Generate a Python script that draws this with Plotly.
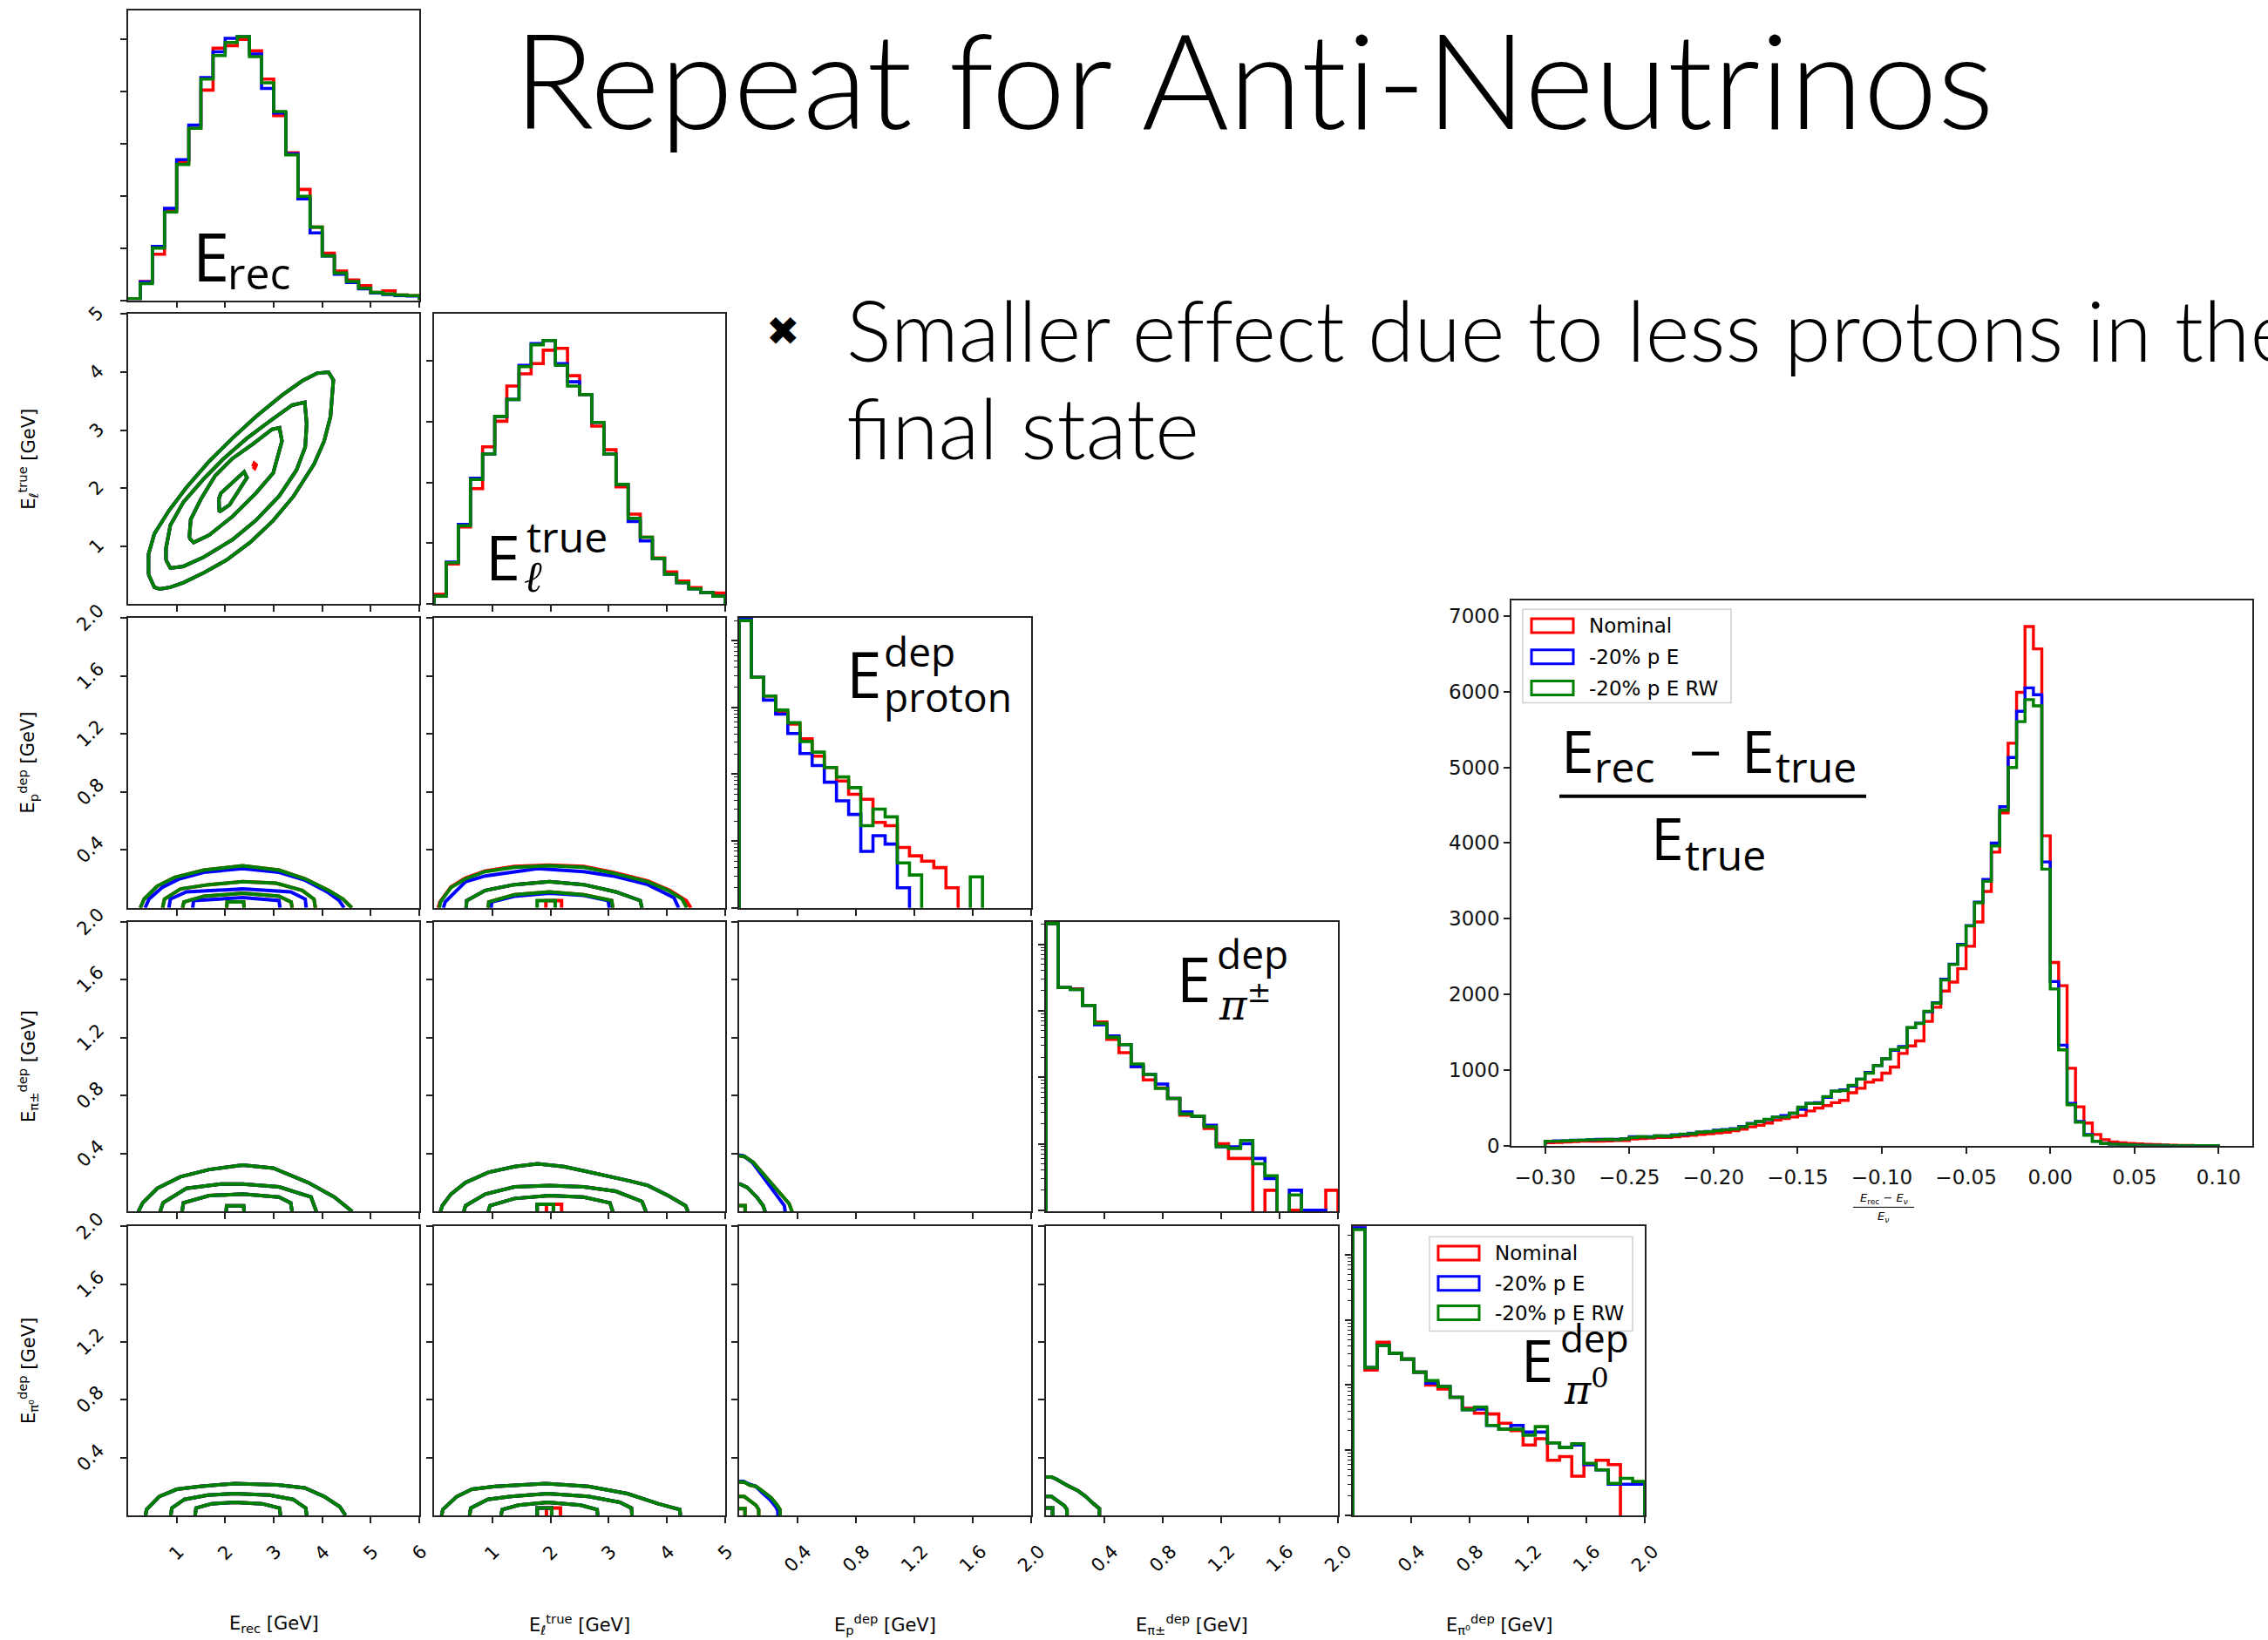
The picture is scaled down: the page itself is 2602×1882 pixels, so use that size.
import plotly.graph_objects as go

W, H = 2602, 1882
RED, BLUE, GREEN = "#ff0000", "#0000ff", "#008000"
SERIES_NAMES = ["Nominal", "-20% p E", "-20% p E RW"]
SERIES_COLORS = [RED, BLUE, GREEN]

# ---------------- corner-plot variables ----------------
VAR_RANGES = [(0, 6), (0, 5), (0, 2), (0, 2), (0, 2)]
VAR_TICKS = [[1, 2, 3, 4, 5, 6], [1, 2, 3, 4, 5],
             [0.4, 0.8, 1.2, 1.6, 2.0], [0.4, 0.8, 1.2, 1.6, 2.0], [0.4, 0.8, 1.2, 1.6, 2.0]]
VAR_TICKTEXT = [["1", "2", "3", "4", "5", "6"], ["1", "2", "3", "4", "5"],
                ["0.4", "0.8", "1.2", "1.6", "2.0"], ["0.4", "0.8", "1.2", "1.6", "2.0"],
                ["0.4", "0.8", "1.2", "1.6", "2.0"]]
VAR_AXIS_TITLES = ["E<sub>rec</sub> [GeV]", "E<sub>ℓ</sub><sup>true</sup> [GeV]",
                   "E<sub>p</sub><sup>dep</sup> [GeV]", "E<sub>π±</sub><sup>dep</sup> [GeV]",
                   "E<sub>π⁰</sub><sup>dep</sup> [GeV]"]
N_BINS = 24

# diagonal histograms (counts per bin, 24 bins over the variable range)
HIST_EREC_NOM = [30, 360, 880, 1720, 2640, 3290, 4020, 4820, 4870, 4990, 4770, 4230,
                 3530, 2820, 2120, 1400, 900, 560, 390, 280, 150, 180, 100, 90]
HIST_EREC_PE = [30, 350, 1030, 1760, 2690, 3350, 4260, 4750, 5010, 5040, 4710, 4050,
                3580, 2800, 1940, 1290, 850, 500, 340, 220, 140, 110, 90, 80]
HIST_EREC_RW = [30, 320, 1000, 1690, 2600, 3290, 4230, 4680, 4930, 5040, 4660, 4160,
                3610, 2780, 1990, 1400, 850, 520, 360, 230, 150, 120, 100, 90]

HIST_ETRUE_NOM = [160, 660, 1270, 1900, 2590, 3010, 3590, 3790, 3960, 4180, 4210, 3760,
                  3450, 2930, 2540, 1930, 1480, 1100, 760, 530, 380, 270, 190, 180]
HIST_ETRUE_PE = [130, 690, 1310, 2070, 2470, 3090, 3370, 3930, 4290, 4340, 3960, 3660,
                 3450, 2990, 2470, 1970, 1360, 1040, 750, 490, 350, 250, 190, 130]
HIST_ETRUE_RW = [130, 680, 1290, 2050, 2470, 3090, 3370, 3910, 4270, 4340, 3930, 3590,
                 3450, 2990, 2470, 1970, 1410, 1100, 750, 490, 350, 250, 190, 130]

HIST_EP_NOM = [21380, 2818, 1479, 851, 562, 339, 186, 126, 79, 50, 42, 19,
               17, 8, 6, 5, 4, 2, 0, 0, 0, 0, 0, 0]
HIST_EP_PE = [21380, 2818, 1288, 794, 407, 204, 135, 76, 40, 25, 7, 12,
              9, 2, 0, 0, 0, 0, 0, 0, 0, 0, 0, 0]
HIST_EP_RW = [19950, 2818, 1479, 912, 589, 309, 214, 126, 91, 63, 17, 30,
              23, 4.7, 3.1, 0, 0, 0, 0, 2.9, 0, 0, 0, 0]

HIST_EPI_NOM = [20420, 2239, 2138, 1202, 676, 372, 234, 145, 91, 69, 48, 27,
                26, 17, 10, 6, 6, 0, 2, 0, 1, 1, 0, 2]
HIST_EPI_PE = [20420, 2239, 2089, 1202, 617, 417, 309, 145, 110, 79, 48, 30,
               26, 19, 9, 9, 10, 6, 3, 0, 2, 1, 1, 0]
HIST_EPI_RW = [20420, 2239, 2089, 1202, 646, 398, 309, 158, 110, 68, 48, 28,
               26, 18, 9.1, 8.5, 11.2, 5.0, 3.3, 0, 1.7, 0, 0, 0]

HIST_EPI0_NOM = [26300, 170, 457, 309, 251, 158, 100, 87, 65, 44, 37, 36,
                 26, 20, 12, 15, 7, 8, 4, 6, 7, 6, 0, 0]
HIST_EPI0_PE = [26300, 186, 407, 309, 251, 158, 107, 95, 65, 42, 43, 24,
                21, 24, 19, 19, 13, 11, 12, 6, 5, 3, 3, 3]
HIST_EPI0_RW = [24550, 186, 407, 309, 251, 158, 117, 95, 65, 42, 46, 24,
                21, 21, 17, 23, 13, 11, 12.6, 6.3, 5.0, 3.1, 3.7, 3.3]

# log10 ranges of the log-scaled diagonal panels
LOG_RANGE_EP = [0, 4.34]
LOG_RANGE_EPI = [-0.02, 4.34]
LOG_RANGE_EPI0 = [0, 4.44]

# contour lines (x, y), one list per contour level
CONT_ETRUE_EREC = [
    [(0.42, 0.51), (0.54, 0.29), (0.65, 0.26), (0.87, 0.29), (1.14, 0.37), (1.56, 0.54), (2.03, 0.76),
     (2.51, 1.06), (2.99, 1.44), (3.41, 1.86), (3.83, 2.41), (4.04, 2.81), (4.17, 3.23), (4.23, 3.86),
     (4.13, 4.00), (3.89, 3.98), (3.59, 3.85), (3.17, 3.60), (2.63, 3.23), (2.15, 2.86), (1.67, 2.46),
     (1.20, 2.01), (0.84, 1.61), (0.54, 1.21), (0.42, 0.86), (0.42, 0.51)],
    [(0.78, 0.76), (0.87, 0.62), (1.14, 0.65), (1.56, 0.81), (2.15, 1.11), (2.63, 1.44), (3.11, 1.86),
     (3.47, 2.31), (3.65, 2.71), (3.68, 3.11), (3.64, 3.48), (3.38, 3.43), (2.93, 3.16), (2.45, 2.86),
     (1.97, 2.51), (1.56, 2.16), (1.14, 1.76), (0.87, 1.36), (0.78, 0.96), (0.78, 0.76)],
    [(1.26, 1.14), (1.35, 1.06), (1.67, 1.19), (2.15, 1.51), (2.63, 1.91), (2.99, 2.26), (3.17, 2.81),
     (3.12, 3.04), (2.96, 3.01), (2.57, 2.76), (2.15, 2.51), (1.79, 2.21), (1.50, 1.81), (1.29, 1.46),
     (1.26, 1.14)],
    [(1.87, 1.81), (1.88, 1.59), (2.09, 1.71), (2.45, 2.18), (2.39, 2.28), (1.91, 1.91), (1.87, 1.81)],
]
CONT_ETRUE_EREC_NOM_EXTRA = [[(2.57, 2.37), (2.60, 2.43), (2.64, 2.40), (2.61, 2.34), (2.57, 2.37)]]

CONT_EP_EREC = [
    [(0.25, 0), (0.33, 0.06), (0.60, 0.15), (0.96, 0.21), (1.56, 0.26), (2.36, 0.29), (3.11, 0.26),
     (3.65, 0.20), (4.13, 0.12), (4.43, 0.06), (4.61, 0)],
    [(0.71, 0), (0.75, 0.06), (1.08, 0.13), (1.67, 0.16), (2.36, 0.18), (3.05, 0.17), (3.59, 0.12),
     (3.83, 0.06), (3.86, 0)],
    [(1.12, 0), (1.15, 0.04), (1.56, 0.08), (2.36, 0.10), (3.11, 0.08), (3.36, 0.04), (3.38, 0)],
    [(2.03, 0), (2.04, 0.04), (2.38, 0.04), (2.39, 0)],
]
CONT_EP_EREC_PE = [
    [(0.35, 0), (0.43, 0.06), (0.70, 0.14), (1.06, 0.20), (1.56, 0.245), (2.36, 0.27), (3.11, 0.245),
     (3.65, 0.19), (4.10, 0.11), (4.35, 0.05), (4.45, 0)],
    [(0.84, 0), (0.87, 0.06), (1.20, 0.11), (2.36, 0.13), (3.35, 0.11), (3.65, 0.06), (3.67, 0)],
    [(1.33, 0), (1.35, 0.05), (2.36, 0.07), (3.11, 0.05), (3.13, 0)],
]

CONT_EP_ETRUE = [
    [(0.09, 0), (0.11, 0.04), (0.29, 0.14), (0.54, 0.20), (0.88, 0.25), (1.38, 0.28), (1.98, 0.29),
     (2.57, 0.28), (3.07, 0.24), (3.37, 0.21), (3.67, 0.18), (4.02, 0.12), (4.26, 0.06), (4.34, 0)],
    [(0.55, 0), (0.56, 0.05), (0.88, 0.12), (1.38, 0.16), (1.98, 0.18), (2.57, 0.16), (3.12, 0.11),
     (3.54, 0.05), (3.57, 0)],
    [(0.93, 0), (0.94, 0.04), (1.38, 0.09), (1.98, 0.11), (2.57, 0.09), (3.05, 0.05), (3.07, 0)],
    [(1.77, 0), (1.77, 0.05), (2.08, 0.05), (2.08, 0)],
]
CONT_EP_ETRUE_NOM = [
    [(0.07, 0), (0.10, 0.04), (0.29, 0.145), (0.54, 0.205), (0.88, 0.255), (1.38, 0.285), (1.98, 0.295),
     (2.57, 0.285), (3.07, 0.245), (3.67, 0.185), (4.05, 0.12), (4.33, 0.05), (4.41, 0)],
    [(0.55, 0), (0.56, 0.05), (0.88, 0.12), (1.38, 0.16), (1.98, 0.18), (2.57, 0.16), (3.12, 0.11),
     (3.54, 0.05), (3.57, 0)],
    [(0.93, 0), (0.94, 0.04), (1.38, 0.09), (1.98, 0.11), (2.57, 0.09), (3.05, 0.05), (3.07, 0)],
    [(1.92, 0), (1.92, 0.05), (2.19, 0.05), (2.19, 0)],
]
CONT_EP_ETRUE_PE = [
    [(0.16, 0), (0.19, 0.04), (0.54, 0.18), (0.88, 0.22), (1.78, 0.27), (2.57, 0.25), (3.07, 0.22),
     (3.67, 0.16), (4.12, 0.07), (4.20, 0)],
    [(0.55, 0), (0.56, 0.05), (0.88, 0.12), (1.38, 0.16), (1.98, 0.18), (2.57, 0.16), (3.12, 0.11),
     (3.54, 0.05), (3.57, 0)],
    [(0.98, 0), (0.99, 0.04), (1.38, 0.08), (1.98, 0.10), (2.57, 0.085), (2.99, 0.05), (3.01, 0)],
]

CONT_EPI_EREC = [
    [(0.21, 0), (0.30, 0.06), (0.60, 0.16), (1.08, 0.24), (1.67, 0.29), (2.36, 0.32), (2.99, 0.30),
     (3.71, 0.20), (4.25, 0.10), (4.62, 0)],
    [(0.66, 0), (0.72, 0.06), (1.20, 0.16), (1.91, 0.19), (2.36, 0.19), (3.11, 0.17), (3.77, 0.10),
     (3.88, 0)],
    [(1.11, 0), (1.14, 0.06), (1.67, 0.11), (2.36, 0.12), (3.11, 0.10), (3.35, 0.06), (3.38, 0)],
    [(2.02, 0), (2.03, 0.04), (2.38, 0.04), (2.39, 0)],
]

CONT_EPI_ETRUE = [
    [(0.11, 0), (0.14, 0.04), (0.29, 0.12), (0.54, 0.20), (0.93, 0.27), (1.38, 0.31), (1.78, 0.33),
     (2.23, 0.31), (2.58, 0.28), (3.07, 0.24), (3.37, 0.21), (3.67, 0.18), (4.02, 0.11), (4.32, 0.04),
     (4.36, 0)],
    [(0.51, 0), (0.54, 0.04), (0.88, 0.12), (1.38, 0.17), (1.98, 0.18), (2.57, 0.17), (3.12, 0.14),
     (3.57, 0.07), (3.64, 0)],
    [(0.93, 0), (0.96, 0.04), (1.38, 0.09), (1.98, 0.11), (2.57, 0.10), (3.02, 0.06), (3.07, 0)],
    [(1.77, 0), (1.77, 0.05), (2.05, 0.05), (2.05, 0)],
]
CONT_EPI_ETRUE_NOM_EXTRA = [[(1.93, 0), (1.93, 0.05), (2.19, 0.05), (2.19, 0)]]

CONT_EPI_EP = [
    [(0, 0.386), (0.04, 0.378), (0.096, 0.34), (0.164, 0.26), (0.233, 0.18), (0.288, 0.11),
     (0.342, 0.055), (0.362, 0)],
    [(0, 0.193), (0.055, 0.166), (0.123, 0.097), (0.164, 0.041), (0.178, 0)],
    [(0, 0.041), (0.041, 0.041), (0.041, 0)],
]
CONT_EPI_EP_PE = [
    [(0, 0.39), (0.03, 0.385), (0.09, 0.34), (0.155, 0.25), (0.22, 0.17), (0.27, 0.10),
     (0.31, 0.04), (0.315, 0)],
    [(0, 0.193), (0.055, 0.166), (0.123, 0.097), (0.164, 0.041), (0.178, 0)],
]

CONT_EPI0_EREC = [
    [(0.36, 0), (0.38, 0.04), (0.64, 0.13), (1.0, 0.18), (1.48, 0.20), (2.2, 0.22), (3.08, 0.21),
     (3.64, 0.19), (4.04, 0.13), (4.36, 0.06), (4.48, 0)],
    [(0.88, 0), (0.90, 0.05), (1.16, 0.11), (1.64, 0.14), (2.2, 0.15), (2.92, 0.14), (3.4, 0.11),
     (3.66, 0.05), (3.68, 0)],
    [(1.38, 0), (1.40, 0.05), (1.72, 0.08), (2.2, 0.09), (2.76, 0.08), (3.12, 0.05), (3.14, 0)],
]

CONT_EPI0_ETRUE = [
    [(0.13, 0), (0.15, 0.04), (0.39, 0.13), (0.65, 0.18), (1.05, 0.20), (1.92, 0.22), (2.65, 0.20),
     (3.32, 0.15), (3.85, 0.08), (4.22, 0.04), (4.23, 0)],
    [(0.61, 0), (0.63, 0.05), (0.92, 0.11), (1.32, 0.13), (1.95, 0.15), (2.65, 0.13), (3.19, 0.09),
     (3.39, 0.05), (3.40, 0)],
    [(1.15, 0), (1.17, 0.04), (1.45, 0.07), (1.95, 0.09), (2.52, 0.07), (2.80, 0.04), (2.81, 0)],
    [(1.77, 0), (1.77, 0.05), (2.02, 0.05), (2.02, 0)],
]
CONT_EPI0_ETRUE_NOM_EXTRA = [[(1.93, 0), (1.93, 0.05), (2.17, 0.05), (2.17, 0)]]

CONT_EPI0_EP = [
    [(0, 0.23), (0.035, 0.23), (0.07, 0.21), (0.115, 0.20), (0.17, 0.16), (0.22, 0.12), (0.26, 0.07),
     (0.28, 0.04), (0.28, 0)],
    [(0, 0.13), (0.035, 0.13), (0.075, 0.10), (0.115, 0.07), (0.134, 0.04), (0.134, 0)],
    [(0, 0.046), (0.04, 0.046), (0.04, 0)],
]
CONT_EPI0_EP_PE = [
    [(0, 0.235), (0.03, 0.235), (0.07, 0.215), (0.115, 0.20), (0.165, 0.15), (0.21, 0.11),
     (0.25, 0.06), (0.265, 0.03), (0.265, 0)],
]

CONT_EPI0_EPI = [
    [(0, 0.265), (0.037, 0.265), (0.072, 0.25), (0.139, 0.21), (0.219, 0.17), (0.272, 0.13),
     (0.326, 0.08), (0.366, 0.046), (0.366, 0)],
    [(0, 0.13), (0.037, 0.13), (0.08, 0.10), (0.126, 0.066), (0.144, 0.04), (0.144, 0)],
    [(0, 0.05), (0.045, 0.05), (0.045, 0)],
]

# ---------------- resolution histogram (80 bins from -0.30 to 0.10) ----------------
RES_RANGE = (-0.30, 0.10)
RES_NBINS = 80
RES_TICKS = [-0.30, -0.25, -0.20, -0.15, -0.10, -0.05, 0.00, 0.05, 0.10]
RES_NOM = [40, 45, 50, 55, 60, 60, 60, 65, 70, 70, 90, 95, 100, 110, 110, 120, 130, 140, 150, 160,
           170, 180, 200, 220,
           250, 270, 300, 340, 360, 380, 400, 460, 500, 530, 570, 600, 700, 760, 840, 870, 960, 1040, 1220,
           1320, 1385, 1643, 1830, 2045, 2163, 2340, 2636, 2958,
           3360, 3880, 4400, 5319, 5990, 6860, 6565, 4096, 2421, 2115, 1025, 515, 300, 150,
           80, 50, 40, 30, 25, 20, 15, 10, 8, 6, 4, 3, 2, 1]
RES_PE = [60, 65, 65, 75, 75, 80, 85, 85, 85, 95, 120, 120, 120, 130, 130, 145, 150, 165, 180, 190,
          205, 215, 225, 255,
          295, 320, 345, 380, 400, 430, 480, 560, 570, 640, 720, 740, 790, 880, 970, 1060, 1150, 1260, 1310,
          1560, 1620, 1770, 1890, 2200, 2400, 2660, 2910, 3220,
          3520, 4000, 4480, 5130, 5740, 6050, 5960, 3750, 2170, 1330, 560, 320, 150, 60,
          30, 20, 15, 10, 8, 6, 5, 4, 3, 3, 2, 2, 1, 1]
RES_RW = [60, 60, 65, 70, 75, 80, 80, 85, 80, 90, 110, 120, 115, 130, 125, 140, 155, 160, 180, 185,
          200, 210, 220, 250,
          290, 320, 350, 380, 380, 430, 510, 560, 560, 650, 720, 730, 800, 880, 960, 1060, 1150, 1270, 1300,
          1562, 1616, 1777, 1884, 2190, 2394, 2652, 2904, 3210,
          3494, 3961, 4434, 4997, 5604, 5894, 5813, 3655, 2072, 1267, 542, 311, 140, 59,
          30, 20, 15, 10, 8, 6, 5, 4, 3, 3, 2, 2, 1, 1]

# ---------------- layout (pixel boxes of the panels on the slide) ----------------
COL_PX = [(147, 481), (498, 832), (848, 1183), (1200, 1535), (1552, 1887)]
ROW_PX = [(12, 347), (363, 698), (714, 1049), (1065, 1400), (1417, 1751)]
RES_BOX = (1734, 694, 2584, 1324)

SANS = "DejaVu Sans"
SLIDE = "Lato Light, Roboto Light, Roboto"
LABEL = "Open Sans"
AX = "#222222"
LW_CORNER = 4.0
LW_RES = 3.4
ZWNJ = "\u200c"  # keeps Lato from forming ti / ff ligatures

fig = go.Figure()
layout = dict(width=W, height=H, margin=dict(l=0, r=0, t=0, b=0),
              paper_bgcolor="white", plot_bgcolor="white", showlegend=False,
              annotations=[], shapes=[])


def px_x(px):
    return px / W


def px_y(py):
    return 1 - py / H


def ann(text, x, y, size, xanchor="left", yanchor="middle", family=SANS, angle=0,
        weight=None, xref="paper", yref="paper", color="black"):
    f = dict(family=family, size=size, color=color)
    if weight is not None:
        f["weight"] = weight
    layout["annotations"].append(dict(
        text=text, x=x, y=y, xref=xref, yref=yref, xanchor=xanchor, yanchor=yanchor,
        showarrow=False, font=f, textangle=angle, borderpad=0))


common = dict(showline=True, mirror=True, linecolor=AX, linewidth=1.6, ticks="outside",
              ticklen=7, tickwidth=1.5, tickcolor=AX, showgrid=False, zeroline=False,
              showticklabels=False)

diag_hists = [
    (HIST_EREC_NOM, HIST_EREC_PE, HIST_EREC_RW),
    (HIST_ETRUE_NOM, HIST_ETRUE_PE, HIST_ETRUE_RW),
    (HIST_EP_NOM, HIST_EP_PE, HIST_EP_RW),
    (HIST_EPI_NOM, HIST_EPI_PE, HIST_EPI_RW),
    (HIST_EPI0_NOM, HIST_EPI0_PE, HIST_EPI0_RW),
]
log_ranges = {2: LOG_RANGE_EP, 3: LOG_RANGE_EPI, 4: LOG_RANGE_EPI0}

# contour table: (row, col) -> [levels for Nominal, -20% p E, -20% p E RW]
contours = {
    (1, 0): [CONT_ETRUE_EREC + CONT_ETRUE_EREC_NOM_EXTRA, CONT_ETRUE_EREC, CONT_ETRUE_EREC],
    (2, 0): [CONT_EP_EREC, CONT_EP_EREC_PE, CONT_EP_EREC],
    (2, 1): [CONT_EP_ETRUE_NOM, CONT_EP_ETRUE_PE, CONT_EP_ETRUE],
    (3, 0): [CONT_EPI_EREC, CONT_EPI_EREC, CONT_EPI_EREC],
    (3, 1): [CONT_EPI_ETRUE + CONT_EPI_ETRUE_NOM_EXTRA, CONT_EPI_ETRUE, CONT_EPI_ETRUE],
    (3, 2): [CONT_EPI_EP, CONT_EPI_EP_PE, CONT_EPI_EP],
    (4, 0): [CONT_EPI0_EREC, CONT_EPI0_EREC, CONT_EPI0_EREC],
    (4, 1): [CONT_EPI0_ETRUE + CONT_EPI0_ETRUE_NOM_EXTRA, CONT_EPI0_ETRUE, CONT_EPI0_ETRUE],
    (4, 2): [CONT_EPI0_EP, CONT_EPI0_EP_PE, CONT_EPI0_EP],
    (4, 3): [CONT_EPI0_EPI, CONT_EPI0_EPI, CONT_EPI0_EPI],
}


def step_xy(lo, hi, vals, floor):
    n = len(vals)
    edges = [lo + (hi - lo) * k / n for k in range(n + 1)]
    xs = [edges[0]] + edges[:-1] + [edges[-1]]
    ys = [floor] + [v if v > 0 else floor for v in vals] + [floor]
    return xs, ys


n = 0
axis_num = {}
for i in range(5):
    for j in range(i + 1):
        n += 1
        axis_num[(i, j)] = n
        sfx = "" if n == 1 else str(n)
        xname, yname = "x" + sfx, "y" + sfx
        x0, x1 = COL_PX[j]
        y0, y1 = ROW_PX[i]
        xa = dict(common, domain=[px_x(x0), px_x(x1)], range=list(VAR_RANGES[j]),
                  tickvals=VAR_TICKS[j], anchor=yname)
        if i == j:
            vals = diag_hists[i]
            lo, hi = VAR_RANGES[i]
            if i in log_ranges:
                ya = dict(common, domain=[px_y(y1), px_y(y0)], type="log", range=log_ranges[i],
                          dtick=1, anchor=xname,
                          minor=dict(ticks="outside", ticklen=4, tickwidth=1, tickcolor=AX))
                floor = 1e-3
            else:
                top = 1.1 * max(max(v) for v in vals)
                ya = dict(common, domain=[px_y(y1), px_y(y0)], range=[0, top], dtick=1000,
                          tick0=0, anchor=xname)
                floor = 0
            for name, color, v in zip(SERIES_NAMES, SERIES_COLORS, vals):
                xs, ys = step_xy(lo, hi, v, floor)
                fig.add_trace(go.Scatter(x=xs, y=ys, mode="lines", line_shape="hv",
                                         line=dict(color=color, width=LW_CORNER - 0.4), name=name,
                                         xaxis=xname, yaxis=yname, hoverinfo="skip"))
        else:
            ya = dict(common, domain=[px_y(y1), px_y(y0)], range=list(VAR_RANGES[i]),
                      tickvals=VAR_TICKS[i], anchor=xname)
            for name, color, levels in zip(SERIES_NAMES, SERIES_COLORS, contours[(i, j)]):
                for lev in levels:
                    fig.add_trace(go.Scatter(x=[p[0] for p in lev], y=[p[1] for p in lev],
                                             mode="lines", line=dict(color=color, width=LW_CORNER),
                                             name=name, xaxis=xname, yaxis=yname,
                                             hoverinfo="skip"))
        layout["xaxis" + sfx] = xa
        layout["yaxis" + sfx] = ya

# bottom-row tick labels (rotated 45 deg) and axis titles
for j in range(5):
    axn = axis_num[(4, j)]
    for v, t in zip(VAR_TICKS[j], VAR_TICKTEXT[j]):
        ann(t, v, px_y(1780), 21, xanchor="center", yanchor="top", angle=-45,
            xref="x%d" % axn)
    c = (COL_PX[j][0] + COL_PX[j][1]) / 2
    ann(VAR_AXIS_TITLES[j], px_x(c), px_y(1877), 21, xanchor="center")

# left-column tick labels and axis titles
for i in range(1, 5):
    axn = axis_num[(i, 0)]
    for v, t in zip(VAR_TICKS[i], VAR_TICKTEXT[i]):
        ann(t, px_x(125), v, 21, xanchor="right", yanchor="middle", angle=-45,
            yref="y%d" % axn)
    c = (ROW_PX[i][0] + ROW_PX[i][1]) / 2
    ann(VAR_AXIS_TITLES[i], px_x(32), px_y(c), 21, xanchor="center", angle=-90)

# big labels inside diagonal panels
ann("E", px_x(220), px_y(296), 76, family=LABEL)
ann("rec", px_x(260), px_y(315), 50, family=LABEL)
ann("E", px_x(556), px_y(642), 72, family=LABEL)
ann("true", px_x(603), px_y(620), 48, family=LABEL)
ann("<i>ℓ</i>", px_x(600), px_y(667), 50, family="DejaVu Serif")
ann("E", px_x(970), px_y(778), 73, family=LABEL)
ann("dep", px_x(1013), px_y(752), 46, family=LABEL)
ann("proton", px_x(1013), px_y(805), 46, family=LABEL)
ann("E", px_x(1349), px_y(1130), 71, family=LABEL)
ann("dep", px_x(1395), px_y(1102), 46, family=LABEL)
ann("<i>π</i><sup>±</sup>", px_x(1397), px_y(1158), 48, family="DejaVu Serif")
ann("E", px_x(1744), px_y(1571), 67, family=LABEL)
ann("dep", px_x(1789), px_y(1546), 44, family=LABEL)
ann("<i>π</i><sup>0</sup>", px_x(1793), px_y(1603), 46, family="DejaVu Serif")


# legend drawn as in matplotlib (patch outlines + labels)
def manual_legend(box, patch_x, rows, text_x, size):
    bx0, by0, bx1, by1 = box
    layout["shapes"].append(dict(type="rect", xref="paper", yref="paper",
                                 x0=px_x(bx0), x1=px_x(bx1), y0=px_y(by1), y1=px_y(by0),
                                 line=dict(color="#d0d0d0", width=1.5),
                                 fillcolor="rgba(255,255,255,0.8)", layer="above"))
    for name, color, ry in zip(SERIES_NAMES, SERIES_COLORS, rows):
        layout["shapes"].append(dict(type="rect", xref="paper", yref="paper",
                                     x0=px_x(patch_x[0]), x1=px_x(patch_x[1]),
                                     y0=px_y(ry + 8), y1=px_y(ry - 8),
                                     line=dict(color=color, width=3), layer="above"))
        ann(name, px_x(text_x), px_y(ry), size)


manual_legend((1640, 1429, 1873, 1538), (1650, 1697), [1448, 1483, 1517], 1714, 23)

# ---------------- resolution histogram ----------------
rx0, ry0, rx1, ry1 = RES_BOX
res_top = 1.05 * max(max(RES_NOM), max(RES_PE), max(RES_RW))
layout["xaxis16"] = dict(domain=[px_x(rx0), px_x(rx1)], range=[-0.32, 0.12], anchor="y16",
                         showline=True, mirror=True, linecolor=AX, linewidth=1.6,
                         ticks="outside", ticklen=7, tickwidth=1.5, tickcolor=AX,
                         tickvals=RES_TICKS, tickformat=".2f", showgrid=False, zeroline=False,
                         ticklabelstandoff=8,
                         tickfont=dict(family=SANS, size=23, color="#111"))
layout["yaxis16"] = dict(domain=[px_y(ry1), px_y(ry0)], range=[0, res_top], anchor="x16",
                         showline=True, mirror=True, linecolor=AX, linewidth=1.6,
                         ticks="outside", ticklen=7, tickwidth=1.5, tickcolor=AX,
                         dtick=1000, tick0=0, showgrid=False, zeroline=False,
                         tickfont=dict(family=SANS, size=23, color="#111"))
for name, color, v in zip(SERIES_NAMES, SERIES_COLORS, [RES_NOM, RES_PE, RES_RW]):
    xs, ys = step_xy(RES_RANGE[0], RES_RANGE[1], v, 0)
    fig.add_trace(go.Scatter(x=xs, y=ys, mode="lines", line_shape="hv",
                             line=dict(color=color, width=LW_RES), name=name,
                             xaxis="x16", yaxis="y16", hoverinfo="skip"))

manual_legend((1747, 704, 1986, 812), (1757, 1805), [723, 759, 795], 1822, 23)

# fraction label inside the resolution panel
ann("E", px_x(1790), px_y(866), 68, family=LABEL)
ann("rec", px_x(1828), px_y(886), 48, family=LABEL)
ann("−", px_x(1957), px_y(868), 66, family=LABEL, xanchor="center")
ann("E", px_x(1997), px_y(866), 68, family=LABEL)
ann("true", px_x(2036), px_y(886), 48, family=LABEL)
layout["shapes"].append(dict(type="line", xref="paper", yref="paper",
                             x0=px_x(1789), x1=px_x(2141), y0=px_y(920), y1=px_y(920),
                             line=dict(color="black", width=4)))
ann("E", px_x(1893), px_y(967), 68, family=LABEL)
ann("true", px_x(1932), px_y(987), 48, family=LABEL)

# tiny x-axis title of the resolution panel
ann("<i>E</i><sub>rec</sub> − <i>E<sub>ν</sub></i>", px_x(2161), px_y(1385), 13, xanchor="center")
layout["shapes"].append(dict(type="line", xref="paper", yref="paper",
                             x0=px_x(2126), x1=px_x(2196), y0=px_y(1395), y1=px_y(1395),
                             line=dict(color="black", width=1)))
ann("<i>E<sub>ν</sub></i>", px_x(2160), px_y(1406), 13, xanchor="center")

# ---------------- slide text ----------------
ann("Repeat for Ant" + ZWNJ + "i-Neutrinos", px_x(588), px_y(90), 153, family=SLIDE, weight=300)
ann("✖", px_x(898), px_y(383), 46, family=SANS, xanchor="center")
ann("Smaller ef" + ZWNJ + "fect due to less protons in the", px_x(970), px_y(380), 97,
    family=SLIDE, weight=300)
ann("final state", px_x(970), px_y(493), 97, family=SLIDE, weight=300)

fig.update_layout(**layout)
fig.write_html("out.html")
